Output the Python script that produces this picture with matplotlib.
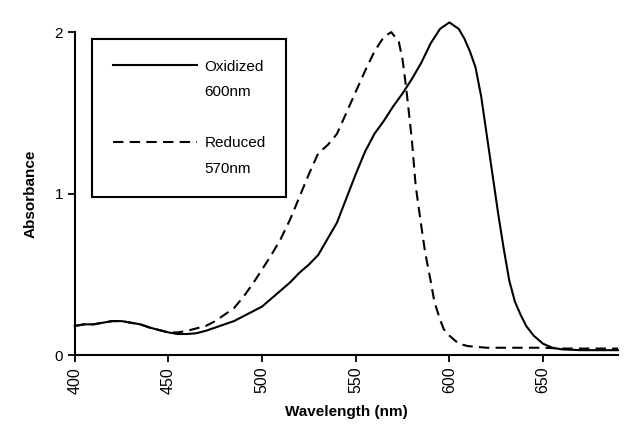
import matplotlib
matplotlib.use("Agg")
import matplotlib.pyplot as plt
from matplotlib.lines import Line2D

plt.rcParams['font.family'] = ['Liberation Sans', 'DejaVu Sans']

# absorbance spectra
wl_ox = [400, 405, 410, 415, 420, 425, 430, 435, 440, 445, 450, 455, 460, 465,
         470, 475, 480, 485, 490, 495, 500, 505, 510, 515, 520, 525, 530, 535,
         540, 545, 550, 555, 560, 565, 570, 575, 580, 585, 590, 595, 600, 605,
         608, 611, 614, 617, 620, 623, 626, 629, 632, 635, 638, 641, 645, 650,
         655, 660, 670, 680, 690]
abs_ox = [0.18, 0.19, 0.19, 0.20, 0.21, 0.21, 0.20, 0.19, 0.17, 0.155, 0.14, 0.13,
          0.13, 0.135, 0.15, 0.17, 0.19, 0.21, 0.24, 0.27, 0.30, 0.35, 0.40, 0.45,
          0.51, 0.56, 0.62, 0.72, 0.82, 0.97, 1.12, 1.26, 1.37, 1.45, 1.54, 1.62,
          1.71, 1.81, 1.93, 2.02, 2.06, 2.02, 1.96, 1.88, 1.78, 1.60, 1.36, 1.12,
          0.88, 0.66, 0.46, 0.33, 0.25, 0.18, 0.12, 0.07, 0.045, 0.035, 0.03,
          0.03, 0.03]

wl_red = [400, 405, 410, 415, 420, 425, 430, 435, 440, 445, 450, 455, 460, 465,
          470, 475, 480, 485, 490, 495, 500, 505, 510, 515, 520, 525, 530, 535,
          540, 545, 550, 555, 560, 565, 569, 573, 575, 577, 580, 582, 585, 587,
          590, 592, 595, 597, 600, 605, 610, 620, 630, 640, 650, 660, 670, 680,
          690]
abs_red = [0.18, 0.19, 0.19, 0.20, 0.21, 0.21, 0.20, 0.19, 0.17, 0.155, 0.14, 0.14,
           0.15, 0.165, 0.18, 0.21, 0.25, 0.29, 0.36, 0.44, 0.53, 0.62, 0.72, 0.84,
           0.98, 1.12, 1.25, 1.30, 1.37, 1.50, 1.63, 1.76, 1.88, 1.97, 2.00, 1.94,
           1.83, 1.65, 1.33, 1.05, 0.80, 0.64, 0.46, 0.33, 0.22, 0.16, 0.12, 0.07,
           0.055, 0.045, 0.045, 0.045, 0.045, 0.04, 0.04, 0.04, 0.04]

xticks = [400, 450, 500, 550, 600, 650]
yticks = [0, 1, 2]

fig = plt.figure(figsize=(6.28, 4.34), dpi=100)
ax = fig.add_axes([0.119, 0.182, 0.865, 0.744])

l1, = ax.plot(wl_ox, abs_ox, color='black', lw=1.5, clip_on=False)
l2, = ax.plot(wl_red, abs_red, color='black', lw=1.5, ls=(0, (5, 3)), clip_on=False)

ax.set_xlim(400, 690)
ax.set_ylim(0, 2)
ax.set_xticks(xticks)
ax.set_yticks(yticks)
ax.set_xticklabels([str(t) for t in xticks], rotation=90)
ax.tick_params(width=1.3, length=5, color='black')
ax.tick_params(axis='x', labelsize=11.5)
ax.tick_params(axis='y', labelsize=11)

for s in ['top', 'right']:
    ax.spines[s].set_visible(False)
for s in ['left', 'bottom']:
    ax.spines[s].set_linewidth(1.5)

ax.set_xlabel('Wavelength (nm)', fontsize=11, fontweight='bold', labelpad=8)
ax.set_ylabel('Absorbance', fontsize=11, fontweight='bold', labelpad=12)

blank = Line2D([], [], color='none')
leg = ax.legend([l1, blank, blank, l2, blank],
                ['Oxidized', '600nm', '', 'Reduced', '570nm'],
                loc='upper left', bbox_to_anchor=(92 / 628, 1 - 39 / 434),
                bbox_transform=fig.transFigure, borderaxespad=0,
                fontsize=11, handlelength=5.5, handletextpad=0.5,
                labelspacing=0.76, borderpad=1.35, fancybox=False,
                framealpha=1, edgecolor='black')
leg.get_frame().set_linewidth(1.5)

fig.savefig('out.png', dpi=100)
